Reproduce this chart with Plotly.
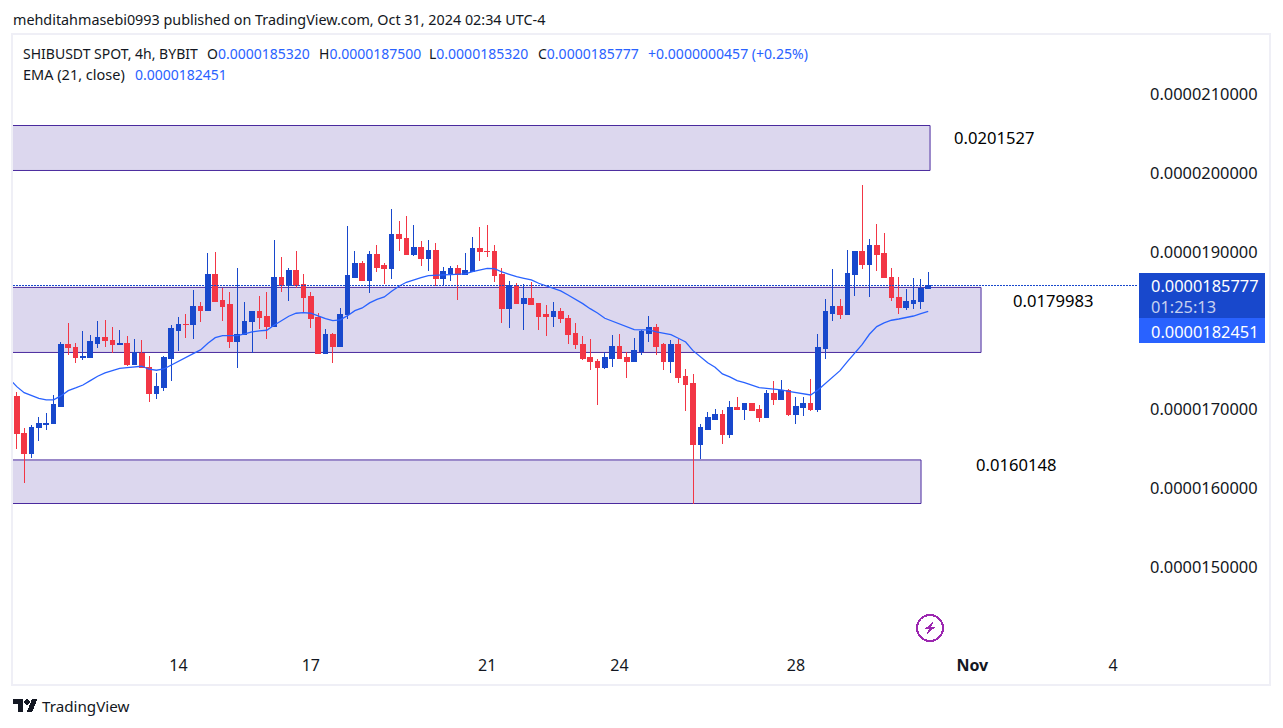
import pandas as pd
import numpy as np
import plotly.graph_objects as go

UNIT = 1e-6  # price lists below are in millionths of USDT

first_bar = "2024-10-10 08:00"
opens = [17.171,16.701,16.447,16.765,16.803,16.816,17.044,17.831,17.793,17.666,17.666,17.844,17.920,17.882,17.819,17.844,17.565,17.717,17.539,17.209,17.285,17.641,18.009,18.085,18.073,18.314,18.263,18.720,18.390,18.327,17.857,17.946,18.111,18.238,18.187,18.060,18.682,18.568,18.771,18.581,18.441,18.162,17.717,17.958,17.806,18.200,18.682,18.860,18.644,18.962,18.822,18.784,19.216,19.177,18.974,19.063,18.923,19.025,18.657,18.733,18.784,18.708,18.758,19.050,19.012,19.000,18.708,18.276,18.568,18.352,18.415,18.352,18.200,18.187,18.250,18.161,17.971,17.831,17.654,17.615,17.539,17.641,17.806,17.654,17.615,17.742,17.971,18.047,17.819,17.603,17.831,17.425,17.336,16.549,16.752,16.879,16.942,16.676,17.019,17.006,17.070,17.006,16.892,17.197,17.133,17.235,16.930,17.019,17.070,17.006,17.768,18.225,18.314,18.212,18.720,19.000,18.835,19.076,18.987,18.682,18.428,18.289,18.352,18.377,18.532]
highs = [17.222,16.765,16.803,16.904,16.955,17.184,17.857,18.098,17.844,17.997,17.946,18.123,18.136,18.047,18.009,17.933,17.895,17.882,17.679,17.463,17.679,18.073,18.174,18.212,18.517,18.365,18.987,19.000,18.543,18.492,18.796,18.365,18.251,18.441,18.492,19.152,18.936,18.796,19.012,18.720,18.492,18.225,18.022,17.971,18.289,19.330,19.012,18.885,19.012,19.089,18.860,19.546,19.393,19.457,19.343,19.139,19.152,19.114,18.809,18.822,18.835,18.987,19.190,19.317,19.343,19.089,18.796,18.631,18.606,18.593,18.619,18.352,18.327,18.365,18.288,18.200,18.098,17.933,17.895,17.641,17.730,17.946,17.958,17.730,17.908,18.009,18.187,18.085,17.844,17.882,17.895,17.514,17.450,16.815,16.968,17.006,16.993,17.108,17.158,17.082,17.082,17.057,17.247,17.362,17.374,17.260,17.158,17.158,17.387,17.958,18.403,18.784,18.403,19.025,19.000,19.851,19.165,19.355,19.241,18.797,18.682,18.530,18.670,18.657,18.750]
lows = [16.498,16.066,16.384,16.600,16.739,16.816,17.044,17.692,17.590,17.628,17.666,17.781,17.793,17.717,17.819,17.552,17.565,17.527,17.095,17.133,17.235,17.362,17.743,17.908,17.895,18.111,18.251,18.365,18.123,17.781,17.527,17.946,17.717,18.022,17.895,18.060,18.492,18.377,18.543,18.225,18.035,17.717,17.704,17.590,17.806,18.149,18.682,18.631,18.479,18.746,18.593,18.657,19.012,18.962,18.949,18.822,18.758,18.568,18.568,18.631,18.390,18.708,18.758,18.885,18.936,18.619,18.098,18.034,18.352,18.009,18.339,18.009,17.933,18.047,18.098,17.831,17.768,17.628,17.501,17.057,17.514,17.539,17.641,17.400,17.615,17.692,17.857,17.692,17.501,17.463,17.336,16.981,15.800,16.371,16.739,16.879,16.561,16.638,16.993,16.866,16.981,16.841,16.892,17.057,17.120,16.917,16.816,16.917,16.981,16.968,17.641,18.124,18.149,18.212,18.441,18.784,18.428,18.758,18.670,18.377,18.212,18.263,18.276,18.276,18.532]
closes = [16.689,16.447,16.773,16.816,16.828,17.057,17.831,17.781,17.654,17.679,17.857,17.920,17.870,17.819,17.844,17.565,17.726,17.527,17.209,17.298,17.654,18.022,18.085,18.073,18.314,18.263,18.720,18.377,18.314,17.857,17.958,18.123,18.238,18.174,18.060,18.682,18.568,18.771,18.568,18.428,18.149,17.717,17.958,17.806,18.212,18.695,18.860,18.644,18.962,18.809,18.784,19.216,19.165,18.974,19.063,18.923,19.025,18.657,18.746,18.784,18.708,18.771,19.050,19.000,19.000,18.695,18.276,18.568,18.352,18.415,18.339,18.187,18.187,18.250,18.149,17.958,17.819,17.641,17.603,17.539,17.654,17.806,17.641,17.615,17.755,17.984,18.047,17.806,17.603,17.831,17.412,17.323,16.549,16.765,16.892,16.942,16.676,17.019,17.006,17.070,16.993,16.892,17.197,17.133,17.235,16.930,17.032,17.070,17.006,17.781,18.238,18.314,18.212,18.733,19.000,18.835,19.076,18.974,18.670,18.416,18.289,18.365,18.390,18.530,18.5777]
first_ema_time = "2024-10-10 04:00"
ema21 = [17.387,17.290,17.213,17.175,17.142,17.121,17.121,17.172,17.239,17.273,17.311,17.366,17.422,17.464,17.498,17.523,17.531,17.544,17.549,17.511,17.498,17.514,17.565,17.616,17.658,17.709,17.756,17.841,17.912,17.937,17.937,17.937,17.959,17.984,17.997,18.006,18.069,18.128,18.184,18.222,18.229,18.222,18.184,18.153,18.128,18.137,18.191,18.255,18.289,18.353,18.399,18.429,18.501,18.565,18.615,18.648,18.674,18.699,18.699,18.708,18.712,18.712,18.721,18.750,18.775,18.793,18.788,18.746,18.717,18.686,18.666,18.645,18.603,18.568,18.539,18.505,18.454,18.403,18.344,18.280,18.225,18.158,18.124,18.090,18.048,18.013,18.010,18.010,17.984,17.968,17.950,17.904,17.857,17.747,17.667,17.594,17.536,17.451,17.413,17.366,17.340,17.307,17.277,17.269,17.260,17.248,17.231,17.213,17.197,17.184,17.248,17.333,17.417,17.493,17.607,17.721,17.823,17.955,18.052,18.099,18.133,18.149,18.166,18.187,18.217,18.2451]

zone_tops = [20.606, 18.550, 16.359]
zone_bottoms = [20.035, 17.724, 15.806]
zone_ends = ["2024-10-31 01:00", "2024-11-01 04:45", "2024-10-30 20:05"]
zone_labels = ["0.0201527", "0.0179983", "0.0160148"]

price_ticks = [15, 16, 17, 18, 19, 20, 21]
price_tick_labels = ["0.0000150000", "0.0000160000", "0.0000170000", "0.0000180000",
                     "0.0000190000", "0.0000200000", "0.0000210000"]
date_ticks = ["2024-10-14", "2024-10-17", "2024-10-21", "2024-10-24", "2024-10-28",
              "2024-11-01", "2024-11-04 04:36"]
date_tick_labels = ["14", "17", "21", "24", "28", "<b>Nov</b>", "4"]

assert len(opens) == len(highs) == len(lows) == len(closes) == 125 and len(ema21) == 126

W, H = 1283, 728
L, R, T, B = 13, 1138, 34, 648
FONT = "Noto Sans"
INK = "#131722"
UP, DOWN, EMA = "#1848CC", "#F23645", "#2962FF"
ZONE_FILL, ZONE_LINE = "#DCD7EE", "#4A2A9E"


def px(x):
    return (x - L) / (R - L)


def py(y):
    return (B - y) / (B - T)


def scaled(values):
    return [v * UNIT for v in values]


times = pd.date_range(first_bar, periods=len(opens), freq="4h")
ema_times = pd.date_range(first_ema_time, periods=len(ema21), freq="4h")

fig = go.Figure()
fig.add_trace(go.Candlestick(
    x=times, open=scaled(opens), high=scaled(highs), low=scaled(lows), close=scaled(closes),
    increasing=dict(line=dict(color=UP, width=1), fillcolor=UP),
    decreasing=dict(line=dict(color=DOWN, width=1), fillcolor=DOWN),
    whiskerwidth=0, showlegend=False, hoverinfo="skip",
))
fig.add_trace(go.Scatter(x=ema_times, y=scaled(ema21), mode="lines",
                         line=dict(color=EMA, width=1.3), showlegend=False, hoverinfo="skip"))

shapes = []
for top, bot, end in zip(zone_tops, zone_bottoms, zone_ends):
    shapes.append(dict(type="rect", xref="x", yref="y", x0="2024-10-01", x1=end,
                       y0=bot * UNIT, y1=top * UNIT, fillcolor=ZONE_FILL,
                       line=dict(color=ZONE_LINE, width=1), layer="below"))
# frame
shapes.append(dict(type="rect", xref="paper", yref="paper", x0=px(12), x1=px(1270),
                   y0=py(684.5), y1=py(33.5), line=dict(color="#EFEFF6", width=2), layer="below"))
shapes.append(dict(type="line", xref="paper", yref="y", x0=0, x1=1,
                   y0=closes[-1] * UNIT, y1=closes[-1] * UNIT,
                   line=dict(color=UP, width=1, dash="2px,1px")))
# price labels
shapes.append(dict(type="rect", xref="paper", yref="paper", x0=px(1139), x1=px(1265),
                   y0=py(318), y1=py(273), fillcolor=UP, line=dict(width=0)))
shapes.append(dict(type="rect", xref="paper", yref="paper", x0=px(1139), x1=px(1265),
                   y0=py(343), y1=py(318), fillcolor=EMA, line=dict(width=0)))
# purple event marker
PURPLE = "#9C27B0"
shapes.append(dict(type="circle", xref="paper", yref="paper", x0=px(917), x1=px(943),
                   y0=py(641), y1=py(615), line=dict(color=PURPLE, width=2)))


def path(points):
    return "M " + " L ".join(f"{px(x):.5f},{py(y):.5f}" for x, y in points) + " Z"


shapes.append(dict(type="path", xref="paper", yref="paper", fillcolor=PURPLE, line=dict(width=0),
                   path=path([(933.5, 621.5), (924.5, 629.2), (929, 629.2), (926.5, 634.5),
                              (935.5, 626.8), (931, 626.8)])))
# TradingView logo
LOGO_U, LOGO_X, LOGO_Y = 0.68, 13.3, 699.3


def logo(u, v):
    return (LOGO_X + LOGO_U * u, LOGO_Y + LOGO_U * (v - 4))


shapes.append(dict(type="path", xref="paper", yref="paper", fillcolor=INK, line=dict(width=0),
                   path=path([logo(0, 4), logo(14, 4), logo(14, 22), logo(7, 22), logo(7, 11), logo(0, 11)])))
shapes.append(dict(type="path", xref="paper", yref="paper", fillcolor=INK, line=dict(width=0),
                   path=path([logo(27.5, 4), logo(35.5, 4), logo(28, 22), logo(20, 22)])))
cx, cy = logo(20, 8)
shapes.append(dict(type="circle", xref="paper", yref="paper", fillcolor=INK, line=dict(width=0),
                   x0=px(cx - 2.7), x1=px(cx + 2.7), y0=py(cy + 2.7), y1=py(cy - 2.7)))


def text(x, y, s, size=14, color=INK, anchor="left", weight=None):
    return dict(xref="paper", yref="paper", x=px(x), y=py(y), text=s, showarrow=False,
                xanchor=anchor, yanchor="middle", borderpad=0, borderwidth=0,
                font=dict(family=FONT, size=size, color=color, weight=weight))


annotations = [
    text(13, 20, "mehditahmasebi0993 published on TradingView.com, Oct 31, 2024 02:34 UTC-4", 14.35),
    text(23, 53, "SHIBUSDT SPOT, 4h, BYBIT", 14),
    text(207, 53, f"O<span style='color:{EMA}'>0.0000185320</span>", 14),
    text(319, 53, f"H<span style='color:{EMA}'>0.0000187500</span>", 14),
    text(429, 53, f"L<span style='color:{EMA}'>0.0000185320</span>", 14),
    text(538, 53, f"C<span style='color:{EMA}'>0.0000185777</span>", 14),
    text(648, 53, "+0.0000000457 (+0.25%)", 14.05, EMA),
    text(23, 74, "EMA (21, close)", 14.5),
    text(135, 74, "0.0000182451", 14, EMA),
    text(954, 138, zone_labels[0], 16.6, "#000000"),
    text(1013, 300, zone_labels[1], 16.6, "#000000"),
    text(976, 464.5, zone_labels[2], 16.6, "#000000"),
    text(1151, 285, "0.0000185777", 16.4, "#FFFFFF"),
    text(1151, 306, "01:25:13", 16.4, "#C5D0F0"),
    text(1151, 331, "0.0000182451", 16.4, "#FFFFFF"),
    text(42, 706, "TradingView", 15.2, INK),
]

fig.update_layout(
    width=W, height=H, autosize=False,
    margin=dict(l=L, r=W - R, t=T, b=H - B, pad=0),
    paper_bgcolor="#FFFFFF", plot_bgcolor="#FFFFFF",
    boxgap=0.3, boxgroupgap=0.1,
    shapes=shapes, annotations=annotations,
    font=dict(family=FONT, color=INK),
    xaxis=dict(type="date", range=["2024-10-10 05:56", "2024-11-04 18:10"],
               rangeslider=dict(visible=False), showgrid=False, zeroline=False, showline=False,
               tickmode="array", tickvals=date_ticks, ticktext=date_tick_labels, ticks="",
               ticklabelstandoff=6, tickfont=dict(size=16, color=INK, family=FONT)),
    yaxis=dict(side="right", range=[13.971 * UNIT, 21.768 * UNIT], showgrid=False, zeroline=False,
               showline=False, tickmode="array", tickvals=scaled(price_ticks),
               ticktext=price_tick_labels, ticks="", ticklabelstandoff=11,
               tickfont=dict(size=16.4, color=INK, family=FONT)),
)

css = (".boxlayer path{shape-rendering:crispEdges}"
       ".layer-below .shapelayer path{shape-rendering:crispEdges}"
       ".layer-above .shapelayer path:nth-child(-n+3){shape-rendering:crispEdges}")
fig.write_html("out.html", config={"displayModeBar": False},
               post_script=("document.body.style.margin='0';document.body.style.overflow='hidden';"
                            "var s=document.createElement('style');s.textContent='" + css + "';"
                            "document.head.appendChild(s);"))
